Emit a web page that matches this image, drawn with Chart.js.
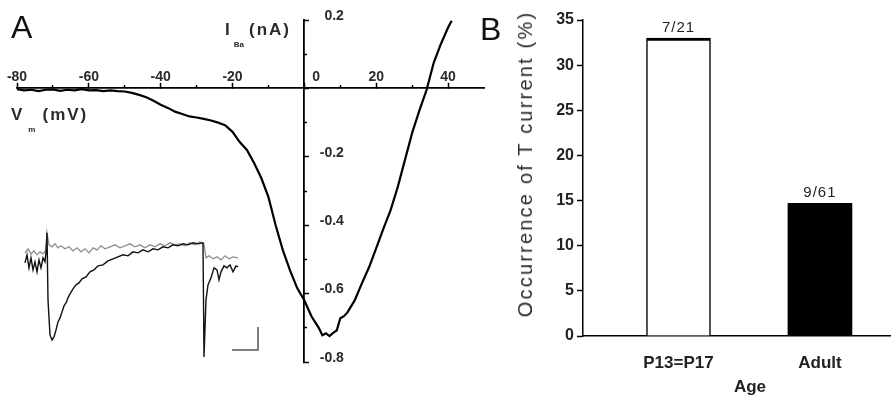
<!DOCTYPE html>
<html>
<head>
<meta charset="utf-8">
<script src="https://cdn.jsdelivr.net/npm/chart.js@4.4.1/dist/chart.umd.min.js"></script>
<style>
  html, body { margin: 0; padding: 0; width: 891px; height: 398px; overflow: hidden; background: #fff; }
  canvas { position: absolute; top: 0; }
  .lbl { position: absolute; white-space: nowrap; color: #2a2a30; font-family: 'Liberation Sans', Arial, sans-serif; line-height: 1; }
  .panel { font-size: 32px; color: #111; }
  .axt { font-weight: bold; font-size: 17px; letter-spacing: 2px; }
  .axt sub { font-size: 8px; vertical-align: -12px; letter-spacing: 0; margin: 0 5px 0 2px; }
  .ytitle { font-family: 'Liberation Sans Narrow', 'Arial Narrow', 'Liberation Sans', sans-serif; font-size: 20px; letter-spacing: 2.2px;
            transform: translate(-50%, -50%) rotate(-90deg); }
</style>
</head>
<body>
<canvas id="ivChart" width="490" height="398" style="left:0"></canvas>
<canvas id="ageChart" width="440" height="398" style="left:480px"></canvas>
<div class="lbl panel" style="left:11px;top:11px">A</div>
<div class="lbl panel" style="left:480px;top:13px">B</div>
<div class="lbl axt" style="left:225px;top:21px">I<sub>Ba</sub>(nA)</div>
<div class="lbl axt" style="left:11px;top:106px">V<sub style="margin-left:4px;margin-right:7px">m</sub>(mV)</div>
<div class="lbl ytitle" style="left:525px;top:164px">Occurrence of T current (%)</div>
<script>
// ---- Panel A: I-V curve (mV, nA)
const ivVoltage = [-80, -78, -76, -74, -72, -70, -68, -66, -64, -62, -60, -58, -56, -54, -52, -50,
  -48, -46, -44, -42, -40, -38, -36, -34, -32, -30, -28, -26, -24, -22, -20, -18, -16, -14, -12,
  -10, -8, -6, -4, -2, 0, 2, 4, 5, 6, 7, 8, 9, 10, 11, 12, 14, 16, 18, 20, 22, 24, 26, 28, 30,
  32, 34, 36, 38, 40, 41];
const ivCurrent = [-0.002, -0.006, -0.004, -0.008, -0.004, -0.003, -0.007, -0.004, -0.006, -0.002,
  -0.006, -0.005, -0.008, -0.006, -0.008, -0.009, -0.013, -0.019, -0.026, -0.036, -0.048, -0.057,
  -0.068, -0.075, -0.082, -0.085, -0.089, -0.094, -0.100, -0.108, -0.127, -0.157, -0.180, -0.218,
  -0.262, -0.318, -0.400, -0.473, -0.532, -0.584, -0.620, -0.667, -0.700, -0.722, -0.716, -0.724,
  -0.715, -0.708, -0.672, -0.666, -0.655, -0.620, -0.570, -0.523, -0.467, -0.410, -0.356, -0.288,
  -0.209, -0.130, -0.065, -0.005, 0.075, 0.130, 0.178, 0.198];
const xTickValues = [-80, -60, -40, -20, 0, 20, 40];
const xMinorTicks = [-70, -50, -30, -10, 10, 30];
const yTickValues = [-0.8, -0.6, -0.4, -0.2, 0.2];
const yAxisTicks = [-0.8, -0.6, -0.4, -0.2, 0, 0.2];
const yMinorTicks = [-0.7, -0.5, -0.3, -0.1, 0.1];

// ---- Inset: current traces (ms, pA)
const blackTime = [0, 2, 4, 6, 8, 10, 12, 14, 16, 18, 20, 21, 22, 23, 25, 27, 29, 31, 33, 35, 37,
  39, 41, 43, 45, 48, 51, 54, 57, 61, 65, 69, 73, 78, 83, 88, 93, 98, 103, 108, 113, 118, 123, 128,
  133, 138, 143, 148, 153, 158, 163, 168, 173, 178, 179, 181, 183, 186, 189, 192, 194, 196, 199,
  202, 205, 208, 211, 213];
const blackAmp = [-13, -5, -18, -8, -20, -12, -22, -10, -18, -8, -12, -2, 17, -50, -85, -90, -87,
  -80, -72, -68, -62, -56, -53, -48, -44, -39, -35, -33, -29, -27, -22, -20, -16, -15, -11, -9, -7,
  -5, -6, -2, -3, 0, -2, 1, 0, 3, 2, 5, 4, 6, 5, 7, 6, 7, -107, -50, -35, -28, -18, -20, -30, -22,
  -16, -18, -15, -22, -16, -17];
const grayTime = [0, 3, 6, 9, 12, 15, 18, 21, 22, 24, 27, 30, 33, 36, 40, 44, 48, 52, 56, 60, 64,
  68, 72, 76, 80, 85, 90, 95, 100, 105, 110, 115, 120, 125, 130, 135, 140, 145, 150, 155, 160,
  165, 170, 175, 179, 181, 184, 188, 192, 196, 200, 204, 208, 213];
const grayAmp = [-3, 1, -4, -1, -5, -2, -4, 0, 17, 5, 3, 6, 2, 4, 1, 3, -1, 2, -2, 1, -3, 2, 0, 4,
  1, 3, 5, 2, 4, 6, 3, 5, 2, 5, 3, 6, 4, 7, 5, 6, 4, 7, 5, 8, 6, -8, -6, -9, -7, -10, -6, -9, -7, -8];
const barTime = [207, 233, 233];
const barAmp = [-100, -100, -77];

// ---- Panel B: occurrence by age
const ageGroups = ['P13=P17', 'Adult'];
const occurrence = [33, 14.7];
const cellCounts = ['7/21', '9/61'];
const occTicks = [0, 5, 10, 15, 20, 25, 30, 35];

const pts = (xs, ys) => xs.map((x, i) => ({x: x, y: ys[i]}));
const setTicks = list => scale => { scale.ticks = list.map(v => ({value: v})); };
const tickFont = {family: "'Liberation Sans', Arial, sans-serif", size: 14, weight: 'bold'};
const narrow = "'Liberation Sans Narrow', 'Arial Narrow', 'Liberation Sans', sans-serif";

new Chart(document.getElementById('ivChart'), {
  type: 'line',
  data: {
    datasets: [
      {data: pts(ivVoltage, ivCurrent), borderColor: '#000', borderWidth: 2.2, pointRadius: 0, xAxisID: 'x', yAxisID: 'y'},
      {data: pts(blackTime, blackAmp), borderColor: '#111', borderWidth: 1.4, pointRadius: 0, xAxisID: 'xi', yAxisID: 'yi'},
      {data: pts(grayTime, grayAmp), borderColor: '#8f8f8f', borderWidth: 1.3, pointRadius: 0, xAxisID: 'xi', yAxisID: 'yi'},
      {data: pts(barTime, barAmp), borderColor: '#555', borderWidth: 1.5, pointRadius: 0, xAxisID: 'xi', yAxisID: 'yi'}
    ]
  },
  options: {
    responsive: false,
    animation: false,
    clip: false,
    layout: {padding: {left: 17, right: 6, top: 20, bottom: 36}},
    plugins: {legend: {display: false}, tooltip: {enabled: false}},
    scales: {
      x: {
        type: 'linear', min: -80, max: 50, position: {y: 0},
        afterBuildTicks: setTicks(xTickValues),
        grid: {drawOnChartArea: false, tickLength: -6, tickColor: '#000', tickWidth: 1.5},
        border: {color: '#000', width: 1.8},
        ticks: {padding: -14, autoSkip: false, maxRotation: 0, font: tickFont, color: '#2a2a30',
          callback: v => v === 0 ? '\u2007\u2007\u20070' : String(v)}
      },
      xm: {
        type: 'linear', min: -80, max: 50, position: {y: 0},
        afterBuildTicks: setTicks(xMinorTicks),
        grid: {drawOnChartArea: false, tickLength: -3, tickColor: '#000', tickWidth: 1.5},
        border: {display: false},
        ticks: {display: false}
      },
      y: {
        type: 'linear', min: -0.8, max: 0.2, position: {x: 0},
        afterBuildTicks: setTicks(yAxisTicks),
        grid: {drawOnChartArea: false, tickLength: -6, tickColor: '#000', tickWidth: 1.5},
        border: {color: '#000', width: 1.8},
        ticks: {display: false}
      },
      ym: {
        type: 'linear', min: -0.8, max: 0.2, position: {x: 0},
        afterBuildTicks: setTicks(yMinorTicks),
        grid: {drawOnChartArea: false, tickLength: -3, tickColor: '#000', tickWidth: 1.5},
        border: {display: false},
        ticks: {display: false}
      },
      yl: {
        type: 'linear', min: -0.8, max: 0.2, position: {x: 11},
        afterBuildTicks: setTicks(yTickValues),
        grid: {display: false},
        border: {display: false},
        ticks: {labelOffset: -4, font: tickFont, color: '#2a2a30', callback: v => v.toFixed(1)}
      },
      xi: {type: 'linear', display: false, min: -8, max: 459},
      yi: {type: 'linear', display: false, min: -112, max: 229.5}
    }
  }
});

const fractionLabels = {
  id: 'fractionLabels',
  afterDatasetsDraw(chart) {
    const ctx = chart.ctx;
    ctx.save();
    ctx.font = '15px ' + narrow;
    ctx.letterSpacing = '1px';
    ctx.fillStyle = '#222';
    ctx.textAlign = 'center';
    ctx.textBaseline = 'bottom';
    chart.getDatasetMeta(0).data.forEach((bar, i) => ctx.fillText(cellCounts[i], bar.x, bar.y - 3));
    ctx.restore();
  }
};

new Chart(document.getElementById('ageChart'), {
  type: 'bar',
  data: {
    datasets: [{
      data: pts(ageGroups.map((g, i) => i), occurrence),
      backgroundColor: ['#fff', '#000'],
      borderColor: '#000',
      borderWidth: c => c.dataIndex === 0 ? {top: 3, left: 1.5, right: 1.5, bottom: 0} : 0,
      borderSkipped: false,
      barThickness: 64
    }]
  },
  options: {
    responsive: false,
    animation: false,
    layout: {padding: {left: 73, right: 3, top: 20, bottom: 0}},
    plugins: {legend: {display: false}, tooltip: {enabled: false}},
    scales: {
      x: {
        type: 'linear', min: -0.675, max: 1.686, offset: false, bounds: 'data',
        afterBuildTicks: setTicks(ageGroups.map((g, i) => i)),
        afterFit: s => { s.height = 62; },
        grid: {display: false, offset: false},
        border: {color: '#000', width: 1.5},
        ticks: {padding: 9, autoSkip: false, maxRotation: 0, color: '#222',
          font: {family: "'Liberation Sans', Arial, sans-serif", size: 17, weight: 'bold'},
          callback: v => ageGroups[v]},
        title: {display: true, text: 'Age', color: '#222', padding: 0,
          font: {family: "'Liberation Sans', Arial, sans-serif", size: 17, weight: 'bold'}}
      },
      y: {
        min: 0, max: 35,
        afterBuildTicks: setTicks(occTicks),
        afterFit: s => { s.width = 30; },
        grid: {drawOnChartArea: false, tickLength: 6, tickColor: '#000', tickWidth: 1.5},
        border: {color: '#000', width: 1.5},
        ticks: {padding: 3, color: '#222', font: {family: narrow, size: 16, weight: 'bold'}}
      }
    }
  },
  plugins: [fractionLabels]
});
</script>
</body>
</html>
